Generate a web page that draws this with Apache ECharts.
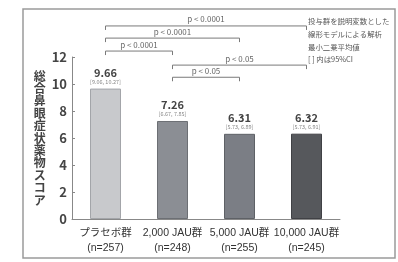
<!DOCTYPE html>
<html>
<head>
<meta charset="utf-8">
<script src="https://cdn.jsdelivr.net/npm/echarts@6/dist/echarts.min.js"></script>
<style>
  html, body { margin: 0; padding: 0; background: #fff; }
  #chart { width: 398px; height: 262px; }
</style>
</head>
<body>
<div id="chart"></div>
<script>
// data
const groups = ['プラセボ群', '2,000 JAU群', '5,000 JAU群', '10,000 JAU群'];
const counts = ['(n=257)', '(n=248)', '(n=255)', '(n=245)'];
const means = [9.66, 7.26, 6.31, 6.32];
const ciLow = [9.06, 6.67, 5.73, 5.73];
const ciHigh = [10.27, 7.85, 6.89, 6.91];
const barColors = ['#c8c9cc', '#8b8e94', '#7b7e85', '#56585c'];
const barBorders = ['#a3a5a9', '#6c6f74', '#5e6166', '#404145'];
// comparison brackets: from group, to group, height on the score axis, label
const bracketFrom = [0, 0, 0, 1, 1];
const bracketTo = [3, 2, 1, 3, 2];
const bracketLevel = [14.3, 13.4, 12.44, 11.4, 10.5];
const bracketText = ['p < 0.0001', 'p < 0.0001', 'p < 0.0001', 'p < 0.05', 'p < 0.05'];
const yTicks = [0, 2, 4, 6, 8, 10, 12];
const noteLines = ['投与群を説明変数とした', '線形モデルによる解析', '最小二乗平均値', '[ ] 内は95%CI'];

const font = '"Noto Sans CJK JP", "Noto Sans", sans-serif';
const latin = '"Liberation Sans", "Noto Sans CJK JP", sans-serif';

const chart = echarts.init(document.getElementById('chart'));

const barData = means.map((v, i) => ({
    value: v,
    itemStyle: { color: barColors[i], borderColor: barBorders[i], borderWidth: 1 },
    label: {
        formatter: '{v|' + v.toFixed(2) + '}\n{ci|[' + ciLow[i].toFixed(2) + ', ' + ciHigh[i].toFixed(2) + ']}'
    }
}));

const bracketData = bracketFrom.map((f, i) => [f, bracketTo[i], bracketLevel[i], i]);

const option = {
    animation: false,
    textStyle: { fontFamily: font },
    graphic: [
        {
            type: 'rect', z: -10,
            shape: { x: 23, y: 9, width: 372, height: 249 },
            style: { fill: '#fff', stroke: '#9a9a9a', lineWidth: 1.5 }
        },
        {
            type: 'text', left: 308, top: 15, z: 10,
            style: {
                text: noteLines.join('\n'),
                font: '7.4px ' + font,
                fill: '#555',
                lineHeight: 12.7,
                backgroundColor: '#fff'
            }
        }
    ],
    grid: { left: 72, right: 58, top: 57, bottom: 43 },
    xAxis: {
        type: 'category',
        data: groups,
        axisLine: { lineStyle: { color: '#888', width: 1 } },
        axisTick: { inside: true, length: 4, lineStyle: { color: '#888' } },
        axisLabel: {
            interval: 0,
            margin: 7,
            color: '#333',
            fontFamily: latin,
            fontSize: 10.5,
            lineHeight: 15,
            formatter: (val, idx) => val + '\n' + counts[idx]
        }
    },
    yAxis: {
        type: 'value',
        min: 0,
        max: 12,
        interval: 2,
        name: '総合鼻眼症状薬物スコア'.split('').join('\n'),
        nameLocation: 'middle',
        nameRotate: 0,
        nameGap: 23,
        nameTextStyle: { fontSize: 12, fontWeight: 'bold', color: '#444', lineHeight: 12.4 },
        splitLine: { show: false },
        axisLine: { show: true, lineStyle: { color: '#888' } },
        axisTick: { show: true, inside: true, length: 3, lineStyle: { color: '#888' } },
        axisLabel: {
            margin: 5,
            color: '#444',
            fontSize: 13,
            fontWeight: 'bold',
            formatter: v => yTicks.includes(v) ? String(v) : ''
        }
    },
    series: [
        {
            type: 'bar',
            data: barData,
            barWidth: 31,
            label: {
                show: true,
                position: 'top',
                distance: 3,
                rich: {
                    v: { fontSize: 11, fontWeight: 'bold', color: '#444', lineHeight: 10, align: 'center' },
                    ci: { fontSize: 5.5, color: '#888', lineHeight: 8, align: 'center' }
                }
            }
        },
        {
            type: 'custom',
            clip: false,
            data: bracketData,
            renderItem: (params, api) => {
                const a = api.coord([api.value(0), api.value(2)]);
                const b = api.coord([api.value(1), api.value(2)]);
                const leg = 4;
                return {
                    type: 'group',
                    children: [
                        {
                            type: 'polyline',
                            shape: { points: [[a[0], a[1] + leg], [a[0], a[1]], [b[0], b[1]], [b[0], b[1] + leg]] },
                            style: { stroke: '#7a7a7a', lineWidth: 1, fill: null }
                        },
                        {
                            type: 'text',
                            x: (a[0] + b[0]) / 2,
                            y: a[1] - 6.5,
                            style: {
                                text: bracketText[api.value(3)],
                                font: '8px ' + font,
                                fill: '#666',
                                align: 'center',
                                verticalAlign: 'middle'
                            }
                        }
                    ]
                };
            }
        }
    ]
};
chart.setOption(option);
window.addEventListener('resize', () => chart.resize());
</script>
</body>
</html>
